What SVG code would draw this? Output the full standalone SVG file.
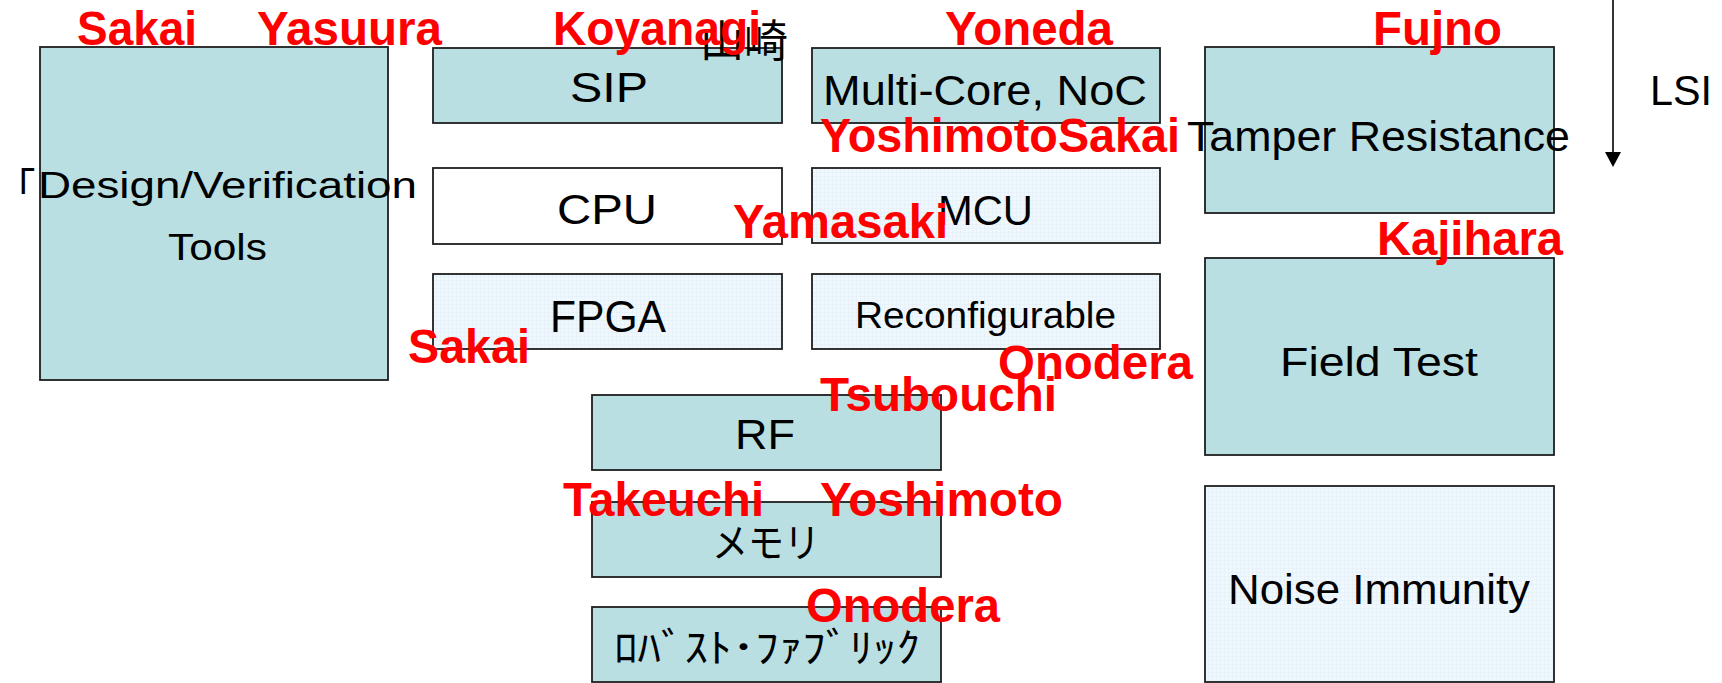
<svg xmlns="http://www.w3.org/2000/svg" width="1722" height="683" viewBox="0 0 1722 683">
<style>
.box{stroke:#1e1e1e;stroke-width:1.8}
.teal{fill:#B9DFE2}
.white{fill:#FFFFFF}
.lt{fill:url(#grid)}
.t{font-family:"Liberation Sans",Arial,sans-serif;fill:#000}
.j{font-family:"Noto Sans CJK JP","Liberation Sans",sans-serif;fill:#000}
.r{font-family:"Liberation Sans",Arial,sans-serif;font-weight:bold;font-size:48px;fill:#FF0000}
</style>
<defs>
<pattern id="grid" width="4" height="4" patternUnits="userSpaceOnUse">
<rect width="4" height="4" fill="#F1F8FD"/>
<path d="M0 0.5H4M0.5 0V4" stroke="#E3EEF7" stroke-width="0.6"/>
</pattern>
</defs>
<rect width="1722" height="683" fill="#FFFFFF"/>
<g id="connectors">
<line x1="1613" y1="0" x2="1613" y2="154" stroke="#000" stroke-width="1.6"/>
<polygon points="1605,152 1621,152 1613,167" fill="#000"/>
</g>
<g id="design"><rect class="box teal" x="40" y="47" width="348" height="333"/>
<text class="t" x="15" y="198" font-size="36" textLength="402" lengthAdjust="spacingAndGlyphs">｢Design/Verification</text>
<text class="t" x="168" y="260" font-size="36" textLength="99" lengthAdjust="spacingAndGlyphs">Tools</text></g>
<g id="sip"><rect class="box teal" x="433" y="48" width="349" height="75"/>
<text class="t" x="570" y="102" font-size="42" textLength="78" lengthAdjust="spacingAndGlyphs">SIP</text></g>
<g id="cpu"><rect class="box white" x="433" y="168" width="349" height="76"/>
<text class="t" x="557" y="224" font-size="43" textLength="100" lengthAdjust="spacingAndGlyphs">CPU</text></g>
<g id="fpga"><rect class="box lt" x="433" y="274" width="349" height="75"/>
<text class="t" x="550" y="332" font-size="44" textLength="116" lengthAdjust="spacingAndGlyphs">FPGA</text></g>
<g id="multicore"><rect class="box teal" x="812" y="48" width="348" height="75"/>
<text class="t" x="823" y="105" font-size="43" textLength="324" lengthAdjust="spacingAndGlyphs">Multi-Core, NoC</text></g>
<g id="mcu"><rect class="box lt" x="812" y="168" width="348" height="75"/>
<text class="t" x="938" y="225" font-size="42" textLength="95" lengthAdjust="spacingAndGlyphs">MCU</text></g>
<g id="reconfigurable"><rect class="box lt" x="812" y="274" width="348" height="75"/>
<text class="t" x="855" y="328" font-size="36" textLength="261" lengthAdjust="spacingAndGlyphs">Reconfigurable</text></g>
<g id="tamper"><rect class="box teal" x="1205" y="47" width="349" height="166"/>
<text class="t" x="1187" y="151" font-size="42" textLength="383" lengthAdjust="spacingAndGlyphs">Tamper Resistance</text></g>
<g id="fieldtest"><rect class="box teal" x="1205" y="258" width="349" height="197"/>
<text class="t" x="1280" y="376" font-size="41" textLength="198" lengthAdjust="spacingAndGlyphs">Field Test</text></g>
<g id="noise"><rect class="box lt" x="1205" y="486" width="349" height="196"/>
<text class="t" x="1228" y="604" font-size="43" textLength="302" lengthAdjust="spacingAndGlyphs">Noise Immunity</text></g>
<g id="rf"><rect class="box teal" x="592" y="395" width="349" height="75"/>
<text class="t" x="735" y="449" font-size="42" textLength="60" lengthAdjust="spacingAndGlyphs">RF</text></g>
<g id="memory"><rect class="box teal" x="592" y="502" width="349" height="75"/>
<text class="j" x="712" y="557" font-size="40" textLength="108" lengthAdjust="spacingAndGlyphs">メモリ</text></g>
<g id="robust"><rect class="box teal" x="592" y="607" width="349" height="75"/>
<text class="j" x="614" y="662" font-size="40" textLength="306" lengthAdjust="spacingAndGlyphs">ﾛﾊﾞｽﾄ･ﾌｧﾌﾞﾘｯｸ</text></g>
<g id="axis-label">
<text class="t" x="1650" y="105" font-size="43" textLength="62" lengthAdjust="spacingAndGlyphs">LSI</text>
<text class="j" x="700" y="57" font-size="44" textLength="88" lengthAdjust="spacingAndGlyphs">山崎</text>
</g>
<g id="names">
<text class="r" x="77" y="45" textLength="120" lengthAdjust="spacingAndGlyphs">Sakai</text>
<text class="r" x="257" y="45" textLength="185" lengthAdjust="spacingAndGlyphs">Yasuura</text>
<text class="r" x="553" y="45" textLength="208" lengthAdjust="spacingAndGlyphs">Koyanagi</text>
<text class="r" x="945" y="45" textLength="168" lengthAdjust="spacingAndGlyphs">Yoneda</text>
<text class="r" x="1373" y="45" textLength="129" lengthAdjust="spacingAndGlyphs">Fujno</text>
<text class="r" x="820" y="152" textLength="360" lengthAdjust="spacingAndGlyphs">YoshimotoSakai</text>
<text class="r" x="733" y="238" textLength="215" lengthAdjust="spacingAndGlyphs">Yamasaki</text>
<text class="r" x="1377" y="255" textLength="186" lengthAdjust="spacingAndGlyphs">Kajihara</text>
<text class="r" x="408" y="363" textLength="122" lengthAdjust="spacingAndGlyphs">Sakai</text>
<text class="r" x="998" y="379" textLength="195" lengthAdjust="spacingAndGlyphs">Onodera</text>
<text class="r" x="820" y="411" textLength="237" lengthAdjust="spacingAndGlyphs">Tsubouchi</text>
<text class="r" x="563" y="516" textLength="201" lengthAdjust="spacingAndGlyphs">Takeuchi</text>
<text class="r" x="820" y="516" textLength="243" lengthAdjust="spacingAndGlyphs">Yoshimoto</text>
<text class="r" x="806" y="622" textLength="194" lengthAdjust="spacingAndGlyphs">Onodera</text>
</g>
</svg>
